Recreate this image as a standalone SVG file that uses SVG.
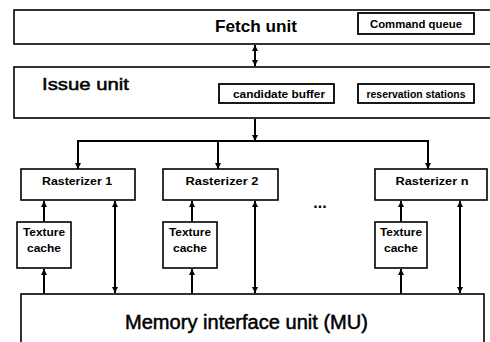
<svg xmlns="http://www.w3.org/2000/svg" width="490" height="342" viewBox="0 0 490 342">
<defs>
<marker id="ah" viewBox="0 0 10 10" refX="10" refY="5" markerWidth="3.2" markerHeight="3.2" orient="auto-start-reverse" markerUnits="strokeWidth">
<path d="M0,0 L10,5 L0,10 Z" fill="#000"/>
</marker>
</defs>
<style>
.box{fill:#fff;stroke:#000;stroke-width:1.6}
.sbox{fill:#fff;stroke:#000;stroke-width:1.8}
.c{fill:none;stroke:#000;stroke-width:2}
.t{font-family:"Liberation Sans",Arial,sans-serif;fill:#000}
.h{stroke:#000;stroke-width:0.5}
.s{font-family:"Liberation Sans",Arial,sans-serif;font-weight:bold;font-size:10px;fill:#000;text-anchor:middle}
</style>
<rect width="490" height="342" fill="#fff"/>
<g id="fetch">
<rect class="box" x="14" y="10" width="480" height="34"/>
<text class="t" x="215" y="32" font-size="17" font-weight="bold" textLength="82" lengthAdjust="spacingAndGlyphs">Fetch unit</text>
<rect class="sbox" x="358" y="13" width="116" height="21"/>
<text class="s" x="416" y="28" textLength="92" lengthAdjust="spacingAndGlyphs">Command queue</text>
</g>
<g id="issue">
<rect class="box" x="14" y="67" width="480" height="51"/>
<text class="t h" x="42" y="90" font-size="17" textLength="87" lengthAdjust="spacingAndGlyphs">Issue unit</text>
<rect class="sbox" x="219" y="84" width="115" height="19"/>
<text class="s" x="279" y="97.5" textLength="92" lengthAdjust="spacingAndGlyphs">candidate buffer</text>
<rect class="sbox" x="358" y="84" width="116" height="19"/>
<text class="s" x="416" y="97.5" textLength="99" lengthAdjust="spacingAndGlyphs">reservation stations</text>
</g>
<g id="rast1">
<rect class="box" x="21" y="169" width="114" height="31"/>
<text class="s" x="77" y="185" textLength="70" lengthAdjust="spacingAndGlyphs">Rasterizer 1</text>
</g>
<g id="rast2">
<rect class="box" x="163" y="169" width="115" height="31"/>
<text class="s" x="222" y="185" textLength="73" lengthAdjust="spacingAndGlyphs">Rasterizer 2</text>
</g>
<g id="rastn">
<rect class="box" x="375" y="169" width="112" height="31"/>
<text class="s" x="432" y="185" textLength="73" lengthAdjust="spacingAndGlyphs">Rasterizer n</text>
</g>
<g id="dots">
<text class="t" x="320" y="208" font-size="16" font-weight="bold" text-anchor="middle">...</text>
</g>
<g id="tex1">
<rect class="box" x="17" y="222" width="54" height="46"/>
<text class="s" x="44" y="236" textLength="42" lengthAdjust="spacingAndGlyphs">Texture</text>
<text class="s" x="44" y="252" textLength="34" lengthAdjust="spacingAndGlyphs">cache</text>
</g>
<g id="tex2">
<rect class="box" x="163" y="222" width="54" height="46"/>
<text class="s" x="190" y="236" textLength="42" lengthAdjust="spacingAndGlyphs">Texture</text>
<text class="s" x="190" y="252" textLength="34" lengthAdjust="spacingAndGlyphs">cache</text>
</g>
<g id="texn">
<rect class="box" x="375" y="222" width="52" height="46"/>
<text class="s" x="401" y="236" textLength="42" lengthAdjust="spacingAndGlyphs">Texture</text>
<text class="s" x="401" y="252" textLength="34" lengthAdjust="spacingAndGlyphs">cache</text>
</g>
<g id="mu">
<rect class="box" x="21" y="294" width="463" height="60"/>
<text class="t h" x="125" y="329" font-size="20" textLength="243" lengthAdjust="spacingAndGlyphs">Memory interface unit (MU)</text>
</g>
<g id="connectors">
<line class="c" x1="255" y1="45" x2="255" y2="66" marker-start="url(#ah)" marker-end="url(#ah)"/>
<line class="c" x1="255" y1="119" x2="255" y2="141" marker-end="url(#ah)"/>
<polyline class="c" points="78,169 78,141 428,141 428,169" marker-start="url(#ah)" marker-end="url(#ah)"/>
<line class="c" x1="218" y1="141" x2="218" y2="169" marker-end="url(#ah)"/>
<line class="c" x1="44" y1="222" x2="44" y2="201" marker-end="url(#ah)"/>
<line class="c" x1="44" y1="294" x2="44" y2="269" marker-end="url(#ah)"/>
<line class="c" x1="115" y1="201" x2="115" y2="293" marker-start="url(#ah)" marker-end="url(#ah)"/>
<line class="c" x1="192" y1="222" x2="192" y2="201" marker-end="url(#ah)"/>
<line class="c" x1="192" y1="294" x2="192" y2="269" marker-end="url(#ah)"/>
<line class="c" x1="255" y1="201" x2="255" y2="293" stroke-width="3" marker-start="url(#ah)" marker-end="url(#ah)"/>
<line class="c" x1="401" y1="222" x2="401" y2="201" marker-end="url(#ah)"/>
<line class="c" x1="401" y1="294" x2="401" y2="269" marker-end="url(#ah)"/>
<line class="c" x1="460" y1="201" x2="460" y2="293" marker-start="url(#ah)" marker-end="url(#ah)"/>
</g>
</svg>
